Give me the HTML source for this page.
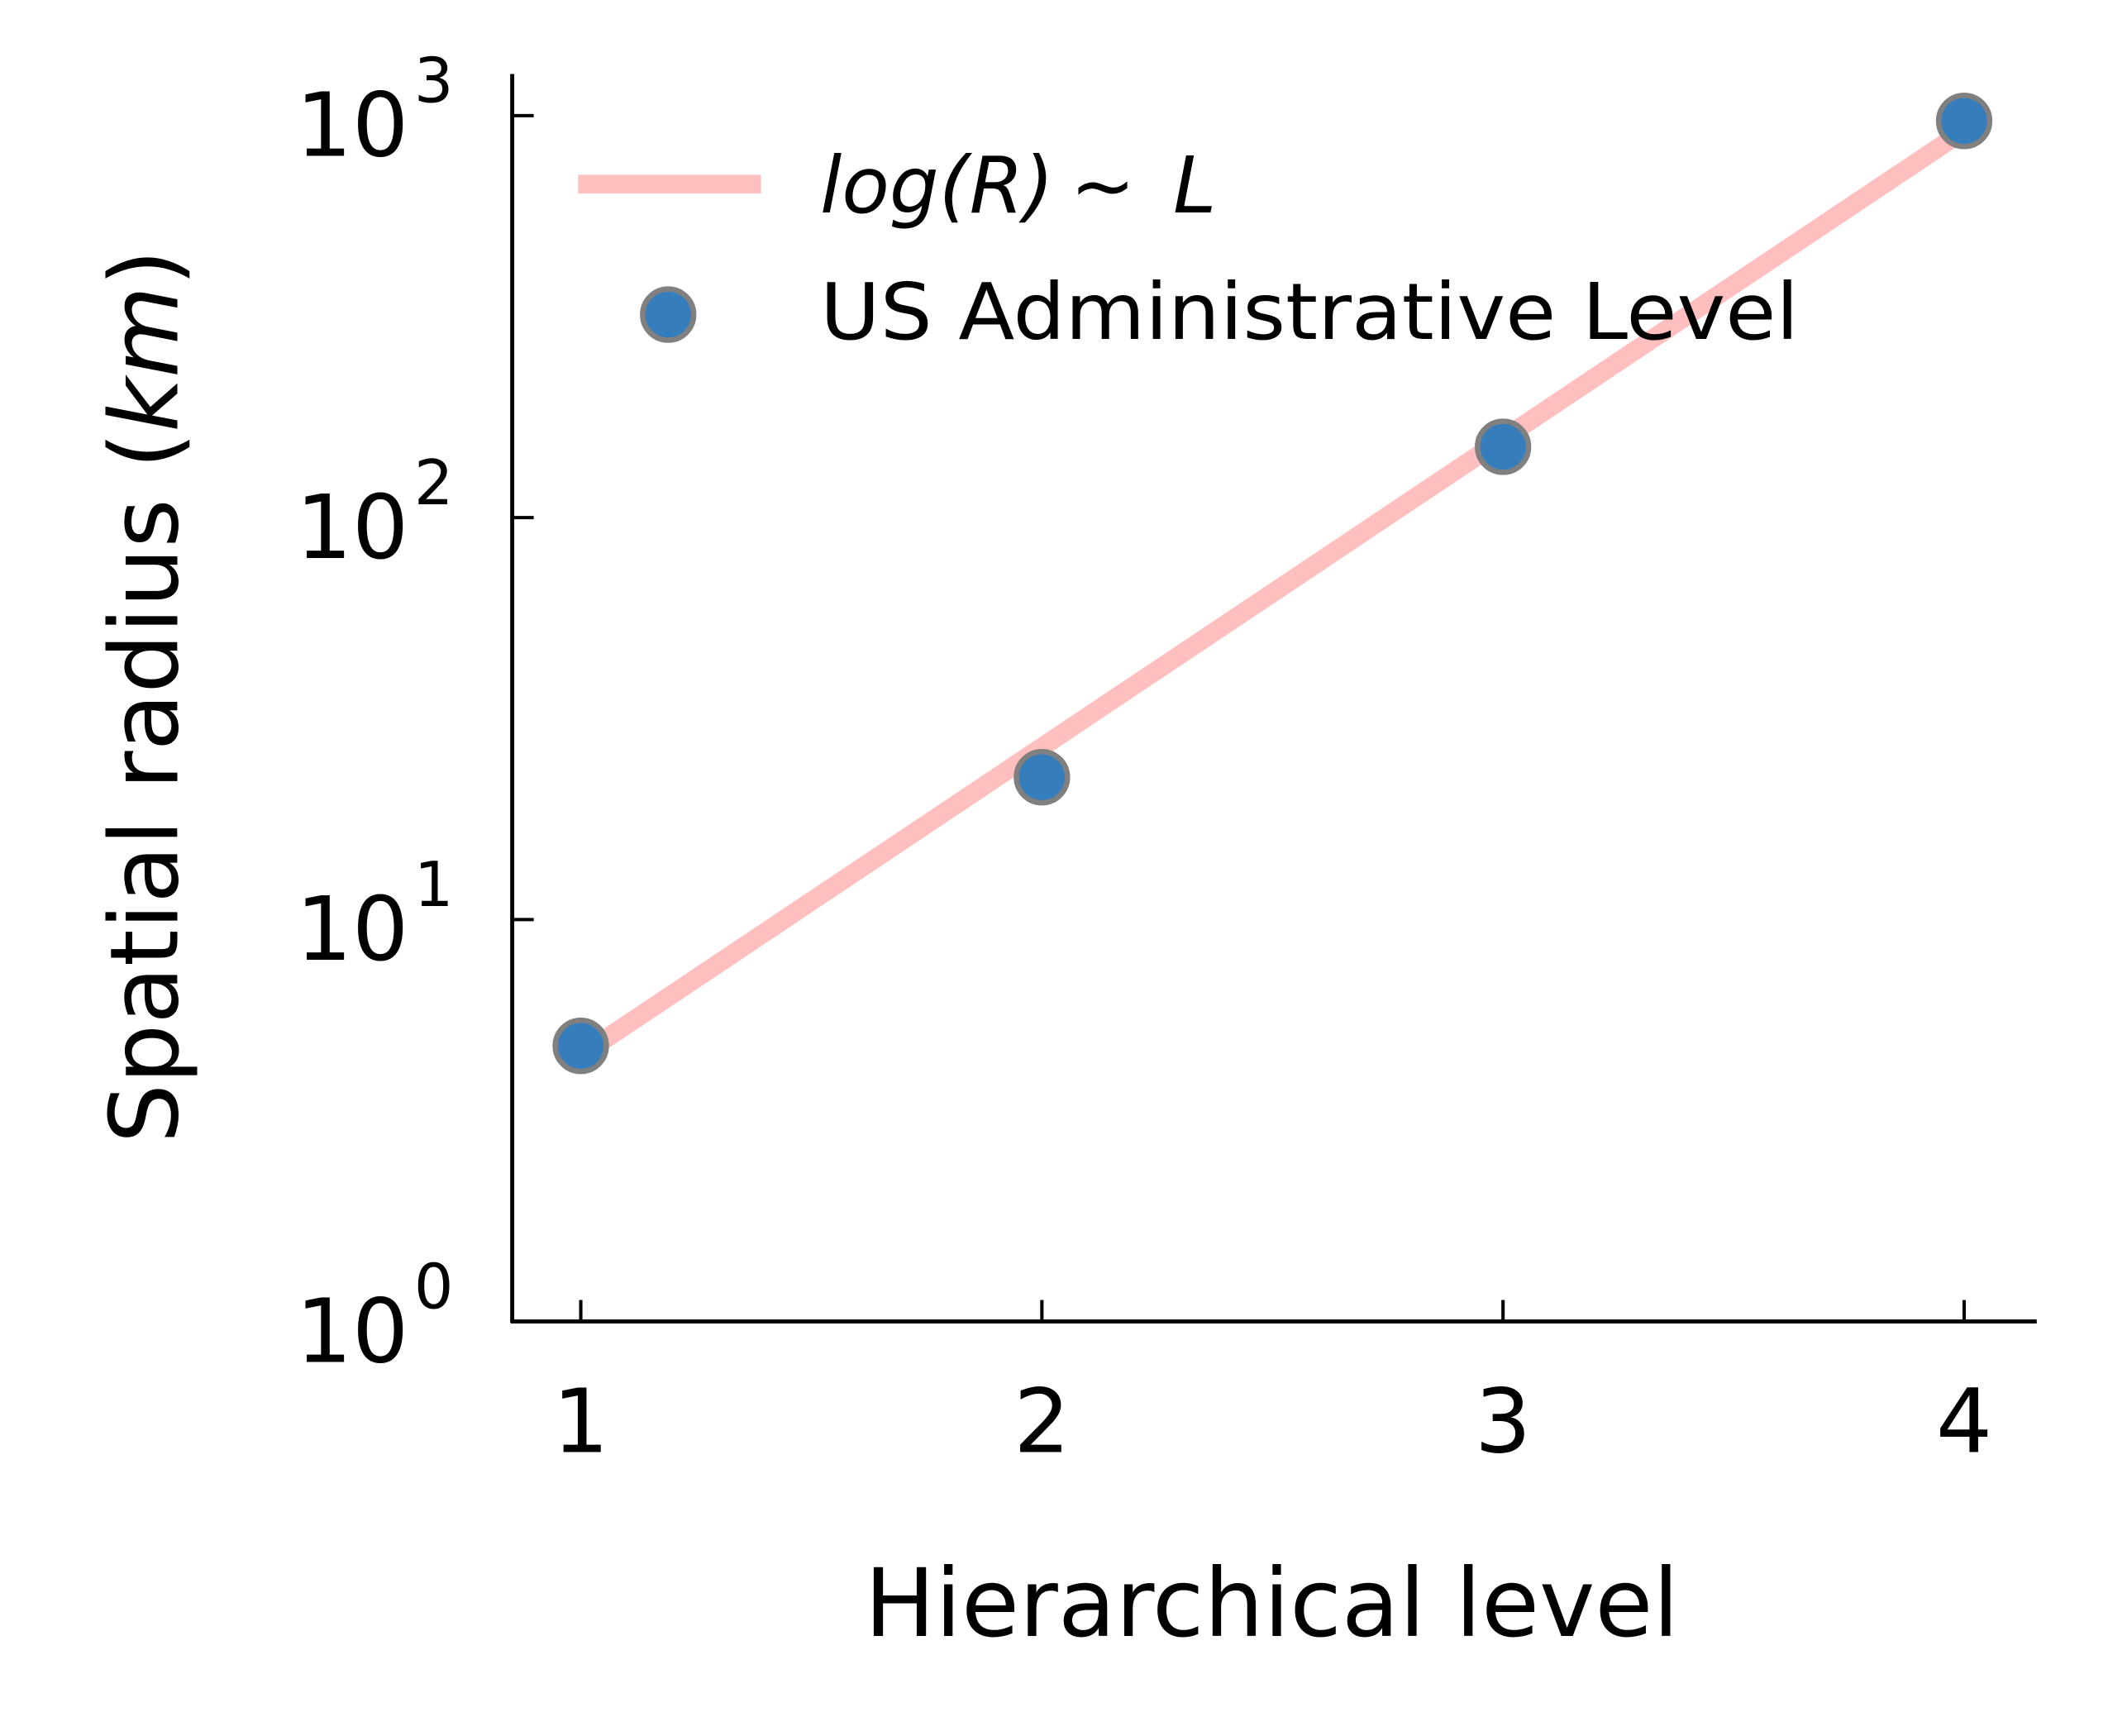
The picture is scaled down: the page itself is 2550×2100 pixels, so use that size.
<!DOCTYPE html>
<html><head><meta charset="utf-8"><style>
html,body{margin:0;padding:0;background:#fff}
svg{display:block}
text{font-family:"DejaVu Sans","Liberation Sans",sans-serif;fill:#000}
</style></head><body>
<svg id="chart" width="2550" height="2100" viewBox="0 0 1568 1291.3" xmlns="http://www.w3.org/2000/svg">
<g id="axes"></g>
<g id="marks"></g>
<g>
  <line x1="430" y1="137" x2="566" y2="137" stroke="#ffbfbf" stroke-width="14"/>
  <text x="610" y="158" font-size="58" font-style="italic">log(R)<tspan font-style="normal" dx="12">~</tspan><tspan dx="28">L</tspan></text>
  <circle cx="497" cy="234" r="19" fill="#367dbb" stroke="#808080" stroke-width="4"/>
  <text x="610" y="252" font-size="58" textLength="728" lengthAdjust="spacingAndGlyphs">US Administrative Level</text>
</g>
<text x="946" y="1217" font-size="70" text-anchor="middle">Hierarchical level</text>
<text transform="translate(132,518) rotate(-90)" font-size="70" text-anchor="middle">Spatial radius (<tspan font-style="italic">km</tspan>)</text>
</svg>
<script>
const levels = [1, 2, 3, 4];
const radii = [4.85, 22.6, 150, 970];
const fitLog10 = [0.662, 2.963]; // log10(R) of fit at level 1 and 4
const xTicks = [1, 2, 3, 4];
const yTickExps = [0, 1, 2, 3];

const NS = "http://www.w3.org/2000/svg";
const X0 = 432, XS = 343, Y0 = 983, YS = 299;
const xs = v => X0 + (v - 1) * XS;
const ys = v => Y0 - Math.log10(v) * YS;
const ysl = l => Y0 - l * YS;
function mk(tag, attrs, parent) {
  const e = document.createElementNS(NS, tag);
  for (const k in attrs) e.setAttribute(k, attrs[k]);
  parent.appendChild(e);
  return e;
}
const axes = document.getElementById('axes');
const marks = document.getElementById('marks');
let e = mk('line', {x1: 381, y1: 55, x2: 381, y2: 984, stroke: '#000', 'stroke-width': 3}, axes);


e = mk('line', {x1: 380, y1: 983, x2: 1515, y2: 983, stroke: '#000', 'stroke-width': 3}, axes);


xTicks.forEach(t => {
  const x = xs(t);
  let l = mk('line', {x1: x, y1: 967, x2: x, y2: 983, stroke: '#000', 'stroke-width': 2.5}, axes);
  
  
  let tx = mk('text', {x: x, y: 1080, 'font-size': 66, 'text-anchor': 'middle'}, axes);
  tx.textContent = t;
  
  
});
yTickExps.forEach(p => {
  const y = ysl(p);
  let l = mk('line', {x1: 381, y1: y, x2: 397, y2: y, stroke: '#000', 'stroke-width': 2.5}, axes);
  
  
  let tx = mk('text', {x: 220, y: y + 30, 'font-size': 66}, axes);
  tx.textContent = '10';
  const s = mk('tspan', {dx: 4, dy: -40, 'font-size': 46}, tx);
  s.textContent = p;
  
  
});
e = mk('line', {x1: xs(levels[0]), y1: ysl(fitLog10[0]), x2: xs(levels[levels.length-1]), y2: ysl(fitLog10[1]), stroke: '#ffbfbf', 'stroke-width': 14}, marks);


levels.forEach((l, i) => {
  const c = mk('circle', {cx: xs(l), cy: ys(radii[i]), r: 19, fill: '#367dbb', stroke: '#808080', 'stroke-width': 4}, marks);
  
  
});
</script>
</body></html>
